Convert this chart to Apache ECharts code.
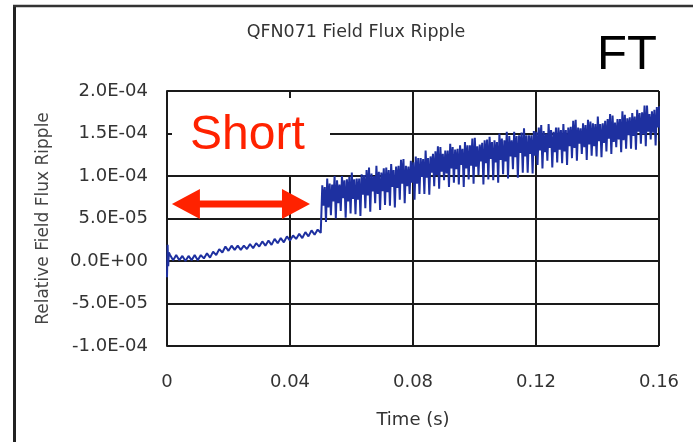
<!DOCTYPE html>
<html><head><meta charset="utf-8">
<script src="https://cdn.jsdelivr.net/npm/echarts@6/dist/echarts.min.js"></script>
<style>html,body{margin:0;padding:0;background:#fff}#c{width:693px;height:442px}</style>
</head><body><div id="c"></div>
<script>
// ---- data (values in units of 1E-05) ----
const chartTitle = 'QFN071 Field Flux Ripple';
const xName = 'Time (s)';
const yName = 'Relative Field Flux Ripple';
const xTicks = [0, 0.04, 0.08, 0.12, 0.16];
const yTicks = [-10, -5, 0, 5, 10, 15, 20];
const UNIT = 1e-5;

// initial transient at t≈0: [time, value]
const startTimes = [0, 0.0002, 0.0004, 0.0006];
const startValues = [-1.9, 1.9, -0.6, 1.0];

// before the jump, sampled every 1 ms from t = 0.001 s to 0.050 s
const preStep = 0.001;
const preValues = [0.7,0.1,0.7,0.1,0.6,0.0,0.6,0.1,0.7,0.1,
  0.7,0.3,0.9,0.4,1.1,0.7,1.4,1.0,1.7,1.2,
  1.8,1.3,1.8,1.3,1.8,1.4,2.0,1.5,2.1,1.7,
  2.3,1.8,2.4,1.9,2.6,2.1,2.7,2.2,2.9,2.4,
  3.0,2.6,3.2,2.7,3.4,2.9,3.6,3.1,3.7,3.3];

// after the jump, one ripple period = 4 samples: peak A, band bottom, peak B, dip
const rippleStart = 0.0505;
const rippleStep = 0.0004;
const ripplePeakA = [8.9,9.7,9.0,9.5,10.0,9.6,10.4,9.7,10.2,10.7,
  10.3,11.2,10.4,11.0,11.4,11.1,11.9,11.2,11.8,12.3,
  12.1,13.0,12.3,12.9,13.4,13.0,13.8,13.1,13.6,14.0,
  13.6,14.5,13.7,14.2,14.6,14.2,15.0,14.2,14.7,15.2,
  14.8,15.6,14.8,15.3,15.7,15.3,16.1,15.2,15.7,16.1,
  15.7,16.5,15.7,16.2,16.6,16.2,17.0,16.2,16.7,17.1,
  16.7,17.6,16.8,17.4,17.8,17.5,18.3,17.6,18.1];
const rippleBand = [6.5,6.3,7.0,6.8,7.4,7.0,7.3,7.2,7.8,7.7,
  8.2,7.9,8.2,8.1,8.7,8.6,9.1,8.8,9.2,9.1,
  9.9,9.8,10.4,10.1,10.5,10.3,10.9,10.8,11.3,10.9,
  11.2,11.1,11.7,11.5,12.0,11.6,11.9,11.7,12.3,12.2,
  12.7,12.3,12.6,12.4,13.0,12.8,13.3,12.8,13.1,12.9,
  13.5,13.3,13.8,13.4,13.7,13.5,14.1,13.9,14.4,14.0,
  14.3,14.2,14.8,14.7,15.2,14.9,15.2,15.1,15.7];
const ripplePeakB = [8.7,9.1,10.0,9.0,9.5,9.9,9.6,9.7,10.1,11.0,
  10.0,10.5,10.9,10.7,10.7,11.2,12.0,11.1,11.6,12.1,
  12.0,12.1,12.6,13.5,12.6,13.0,13.4,13.2,13.2,13.6,
  14.4,13.5,13.9,14.3,14.0,14.0,14.4,15.2,14.2,14.7,
  15.1,14.8,14.8,15.2,16.0,15.0,15.4,15.7,15.4,15.4,
  15.8,16.6,15.6,16.0,16.4,16.1,16.1,16.5,17.3,16.3,
  16.7,17.2,16.9,17.0,17.4,18.3,17.3,17.8,18.2];
const rippleDip = [4.6,5.4,5.0,5.9,5.1,5.6,5.5,5.3,6.2,5.8,
  6.8,6.0,6.6,6.5,6.3,7.2,6.8,7.9,7.2,7.9,
  7.9,7.8,8.8,8.5,9.5,8.7,9.2,9.0,8.7,9.6,
  9.1,10.1,9.0,9.6,9.5,9.2,10.2,9.7,10.8,9.8,
  10.4,10.4,10.3,11.3,10.9,11.8,11.0,11.6,11.5,11.3,
  12.1,11.8,12.6,11.9,12.4,12.3,12.2,12.9,12.6,13.4,
  12.8,13.2,13.2,13.1,13.8,13.5,14.3,13.6,14.1];

// annotation
const arrowFrom = [0.0016, 6.7];
const arrowTo = [0.0465, 6.7];

// ---- build series ----
const seriesData = [];
startTimes.forEach((t, i) => seriesData.push([t, startValues[i]]));
preValues.forEach((v, i) => seriesData.push([+(preStep * (i + 1)).toFixed(4), v]));
ripplePeakA.forEach((v, k) => {
  const base = rippleStart + 4 * k * rippleStep;
  seriesData.push([base, v]);
  seriesData.push([base + rippleStep, rippleBand[k]]);
  seriesData.push([base + 2 * rippleStep, ripplePeakB[k]]);
  seriesData.push([base + 3 * rippleStep, rippleDip[k]]);
});

function fmtY(v) {
  if (Math.abs(v) < 1e-9) return '0.0E+00';
  const s = (v * UNIT).toExponential(1);
  const [m, e] = s.split('e');
  const sign = e[0] === '-' ? '-' : '+';
  const d = e.replace(/^[+-]/, '');
  return m + 'E' + sign + (d.length < 2 ? '0' + d : d);
}

const LBL = "'DejaVu Sans', sans-serif";
const chart = echarts.init(document.getElementById('c'), null, {renderer: 'canvas'});
const gridColor = '#1a1a1a';

chart.setOption({
  animation: false,
  backgroundColor: '#fff',
  grid: {left: 167, right: 34, top: 91, bottom: 96, containLabel: false},
  xAxis: {
    type: 'value', min: xTicks[0], max: xTicks[xTicks.length - 1], interval: xTicks[1] - xTicks[0],
    name: xName, nameLocation: 'middle', nameGap: 65,
    nameTextStyle: {fontFamily: LBL, fontSize: 18, color: '#333'},
    axisLine: {lineStyle: {color: gridColor, width: 2}},
    axisTick: {show: false},
    splitLine: {show: true, lineStyle: {color: gridColor, width: 2}},
    axisLabel: {fontFamily: LBL, fontSize: 18, color: '#333', margin: 27,
      formatter: v => Math.abs(v) < 1e-9 ? '0' : v.toFixed(2)}
  },
  yAxis: {
    type: 'value', min: yTicks[0], max: yTicks[yTicks.length - 1], interval: yTicks[1] - yTicks[0],
    name: yName, nameLocation: 'middle', nameGap: 115, nameRotate: 90,
    nameTextStyle: {fontFamily: LBL, fontSize: 17, color: '#444'},
    axisLine: {show: true, lineStyle: {color: gridColor, width: 2}},
    axisTick: {show: true, inside: true, length: 4, lineStyle: {color: gridColor, width: 2}},
    splitLine: {show: true, lineStyle: {color: gridColor, width: 2}},
    axisLabel: {fontFamily: LBL, fontSize: 18, color: '#333', margin: 19, formatter: fmtY}
  },
  series: [{
    type: 'line', data: seriesData, showSymbol: false, symbol: 'none',
    lineStyle: {color: '#1e30a0', width: 2}, sampling: null, z: 3
  }]
});

// ---- overlay graphics (frame, labels, annotation) ----
const p0 = chart.convertToPixel({gridIndex: 0}, arrowFrom);
const p1 = chart.convertToPixel({gridIndex: 0}, arrowTo);
const headL = 28, headH = 15, shaft = 3.5;
const ay = p0[1];
const arrowPts = [
  [p0[0], ay], [p0[0] + headL, ay - headH], [p0[0] + headL, ay - shaft],
  [p1[0] - headL, ay - shaft], [p1[0] - headL, ay - headH], [p1[0], ay],
  [p1[0] - headL, ay + headH], [p1[0] - headL, ay + shaft],
  [p0[0] + headL, ay + shaft], [p0[0] + headL, ay + headH]
];

chart.setOption({
  graphic: [
    {type: 'rect', z: 1, shape: {x: 172, y: 98, width: 158, height: 77}, style: {fill: '#fff'}},
    {type: 'line', z: 20, shape: {x1: 14.5, y1: 5, x2: 14.5, y2: 442}, style: {stroke: '#222', lineWidth: 3}},
    {type: 'line', z: 20, shape: {x1: 13, y1: 6, x2: 693, y2: 6}, style: {stroke: '#333', lineWidth: 2.5}},
    {type: 'text', z: 20, x: 356, y: 32,
      style: {text: chartTitle, fill: '#333', font: "17.5px 'DejaVu Sans', sans-serif", align: 'center', verticalAlign: 'middle'}},
    {type: 'text', z: 20, x: 597, y: 55,
      style: {text: 'FT', fill: '#000', font: "49px 'Liberation Sans', Arial, sans-serif", verticalAlign: 'middle'}},
    {type: 'text', z: 20, x: 190, y: 136,
      style: {text: 'Short', fill: '#ff2200', font: "48px 'Liberation Sans', Arial, sans-serif", verticalAlign: 'middle'}},
    {type: 'polygon', z: 20, shape: {points: arrowPts}, style: {fill: '#ff2200'}}
  ]
});
</script></body></html>
